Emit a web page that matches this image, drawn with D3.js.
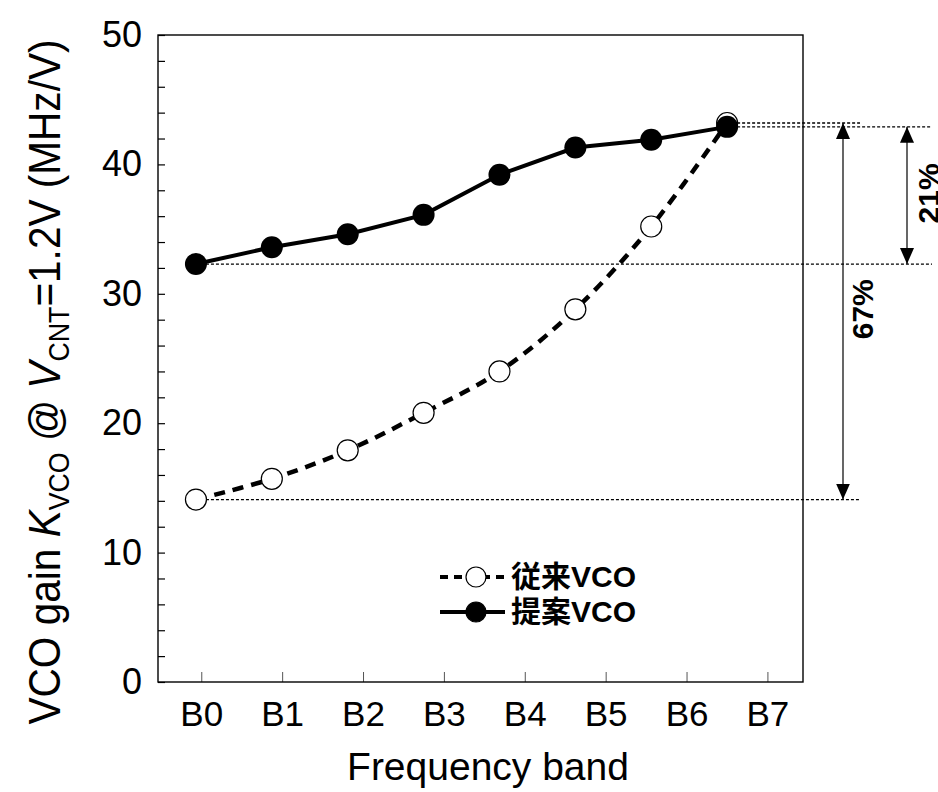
<!DOCTYPE html>
<html>
<head>
<meta charset="utf-8">
<script src="https://d3js.org/d3.v7.min.js"></script>
<style>
  body { margin: 0; background: #fff; }
  text { font-family: "Liberation Sans", Arial, sans-serif; fill: #000; }
</style>
</head>
<body>
<script>
// data
var bands = ["B0", "B1", "B2", "B3", "B4", "B5", "B6", "B7"];
var yTickValues = [0, 10, 20, 30, 40, 50];
var conventional = [14.1, 15.7, 17.9, 20.8, 24.0, 28.8, 35.2, 43.2];  // 従来VCO
var proposed = [32.3, 33.6, 34.6, 36.1, 39.2, 41.3, 41.9, 42.9];      // 提案VCO
var legendNames = ["従来VCO", "提案VCO"];
var spanLabels = ["67%", "21%"];

var W = 938, H = 792;
var pLeft = 158, pRight = 803, pTop = 35, pBottom = 682;

var svg = d3.select("body").append("svg")
  .attr("width", W).attr("height", H);

var y = d3.scaleLinear().domain([0, 50]).range([pBottom, pTop]);
// tick labels and data points do not share spacing in the original figure
var xTick = d3.scaleLinear().domain([-0.535, 7.44]).range([pLeft, pRight]);
var xData = d3.scaleLinear().domain([-0.5, 8]).range([pLeft, pRight]);

// y axis, minor tick every 2
var yAxis = svg.append("g")
  .attr("transform", "translate(" + pLeft + ",0)")
  .call(d3.axisLeft(y).tickValues(d3.range(0, 51, 2)).tickSize(-7).tickPadding(16)
    .tickFormat(function(d) { return yTickValues.indexOf(d) >= 0 ? d : ""; }));
yAxis.select(".domain").remove();
yAxis.selectAll("line").attr("stroke", "#000").attr("stroke-width", 1.2);
yAxis.selectAll("text").style("font-size", "36px").attr("font-family", null);

var xAxis = svg.append("g")
  .attr("transform", "translate(0," + pBottom + ")")
  .call(d3.axisBottom(xTick).tickValues(d3.range(bands.length)).tickSize(-10).tickPadding(19)
    .tickFormat(function(i) { return bands[i]; }));
xAxis.select(".domain").remove();
xAxis.selectAll("line").attr("stroke", "#555").attr("stroke-width", 1);
xAxis.selectAll("text").style("font-size", "35px").attr("font-family", null);

// frame
svg.append("rect")
  .attr("x", pLeft).attr("y", pTop)
  .attr("width", pRight - pLeft).attr("height", pBottom - pTop)
  .attr("fill", "none").attr("stroke", "#000").attr("stroke-width", 1.4);

// dotted reference lines
var last = bands.length - 1;
var refs = [
  {v: conventional[last], x1: xData(last), x2: 860},
  {v: proposed[last], x1: xData(last), x2: 932},
  {v: proposed[0], x1: xData(0), x2: 932},
  {v: conventional[0], x1: xData(0), x2: 860}
];
svg.selectAll(".ref").data(refs).enter().append("line")
  .attr("class", "ref")
  .attr("x1", function(d) { return d.x1; }).attr("x2", function(d) { return d.x2; })
  .attr("y1", function(d) { return y(d.v); }).attr("y2", function(d) { return y(d.v); })
  .attr("stroke", "#000").attr("stroke-width", 1.3).attr("stroke-dasharray", "3,2");

// arrows
var defs = svg.append("defs");
defs.append("marker").attr("id", "ah")
  .attr("viewBox", "0 0 16 14").attr("refX", 16).attr("refY", 7)
  .attr("markerWidth", 16).attr("markerHeight", 14).attr("markerUnits", "userSpaceOnUse")
  .attr("orient", "auto-start-reverse")
  .append("path").attr("d", "M0,0 L16,7 L0,14 Z").attr("fill", "#000");

var spans = [
  {x: 843, v1: conventional[last], v2: conventional[0], label: spanLabels[0], lx: 873},
  {x: 907, v1: proposed[last], v2: proposed[0], label: spanLabels[1], lx: 939}
];
spans.forEach(function(s) {
  svg.append("line")
    .attr("x1", s.x).attr("x2", s.x)
    .attr("y1", y(s.v1)).attr("y2", y(s.v2))
    .attr("stroke", "#000").attr("stroke-width", 1.2)
    .attr("marker-start", "url(#ah)").attr("marker-end", "url(#ah)");
  svg.append("text")
    .attr("transform", "translate(" + s.lx + "," + ((y(s.v1) + y(s.v2)) / 2 - 2) + ") rotate(-90)")
    .attr("text-anchor", "middle")
    .style("font-size", "30px").style("font-weight", "bold")
    .text(s.label);
});

// conventional: dashed smooth curve, open circles
var idx = d3.range(bands.length);
var lineConv = d3.line()
  .x(function(i) { return xData(i); })
  .y(function(i) { return y(conventional[i]); })
  .curve(d3.curveCatmullRom);
svg.append("path").attr("d", lineConv(idx))
  .attr("fill", "none").attr("stroke", "#000").attr("stroke-width", 4.5)
  .attr("stroke-dasharray", "11,8");
svg.selectAll(".conv").data(idx).enter().append("circle")
  .attr("class", "conv")
  .attr("cx", function(i) { return xData(i); })
  .attr("cy", function(i) { return y(conventional[i]); })
  .attr("r", 10.5).attr("fill", "#fff").attr("stroke", "#000").attr("stroke-width", 1.2);

// proposed: solid line, filled circles
var lineProp = d3.line()
  .x(function(i) { return xData(i); })
  .y(function(i) { return y(proposed[i]); });
svg.append("path").attr("d", lineProp(idx))
  .attr("fill", "none").attr("stroke", "#000").attr("stroke-width", 4);
svg.selectAll(".prop").data(idx).enter().append("circle")
  .attr("class", "prop")
  .attr("cx", function(i) { return xData(i); })
  .attr("cy", function(i) { return y(proposed[i]); })
  .attr("r", 11).attr("fill", "#000");

// legend
var lg = svg.append("g").attr("transform", "translate(440,577)");
var rows = [{dash: "8,6", fill: "#fff"}, {dash: null, fill: "#000"}];
rows.forEach(function(r, k) {
  var g = lg.append("g").attr("transform", "translate(0," + k * 35 + ")");
  g.append("line").attr("x1", 0).attr("x2", 65)
    .attr("stroke", "#000").attr("stroke-width", 4)
    .attr("stroke-dasharray", r.dash);
  g.append("circle").attr("cx", 36).attr("r", 10)
    .attr("fill", r.fill).attr("stroke", "#000").attr("stroke-width", 1.2);
  g.append("text").attr("x", 71).attr("y", 10)
    .style("font-size", "30px").style("font-weight", "bold")
    .style("font-family", "'Liberation Sans', 'Noto Sans CJK JP', sans-serif")
    .text(legendNames[k]);
});

// axis titles
svg.append("text")
  .attr("x", 488).attr("y", 780)
  .attr("text-anchor", "middle").style("font-size", "39px")
  .text("Frequency band");

var yt = svg.append("text")
  .attr("transform", "translate(60,382) rotate(-90)")
  .attr("text-anchor", "middle").style("font-size", "44px")
  .attr("textLength", 685).attr("lengthAdjust", "spacingAndGlyphs");
yt.append("tspan").text("VCO gain ");
yt.append("tspan").style("font-style", "italic").text("K");
yt.append("tspan").attr("dy", 9).style("font-size", "29px").text("VCO");
yt.append("tspan").attr("dy", -9).text(" @ ");
yt.append("tspan").style("font-style", "italic").text("V");
yt.append("tspan").attr("dy", 9).style("font-size", "29px").text("CNT");
yt.append("tspan").attr("dy", -9).text("=1.2V (MHz/V)");
</script>
</body>
</html>
